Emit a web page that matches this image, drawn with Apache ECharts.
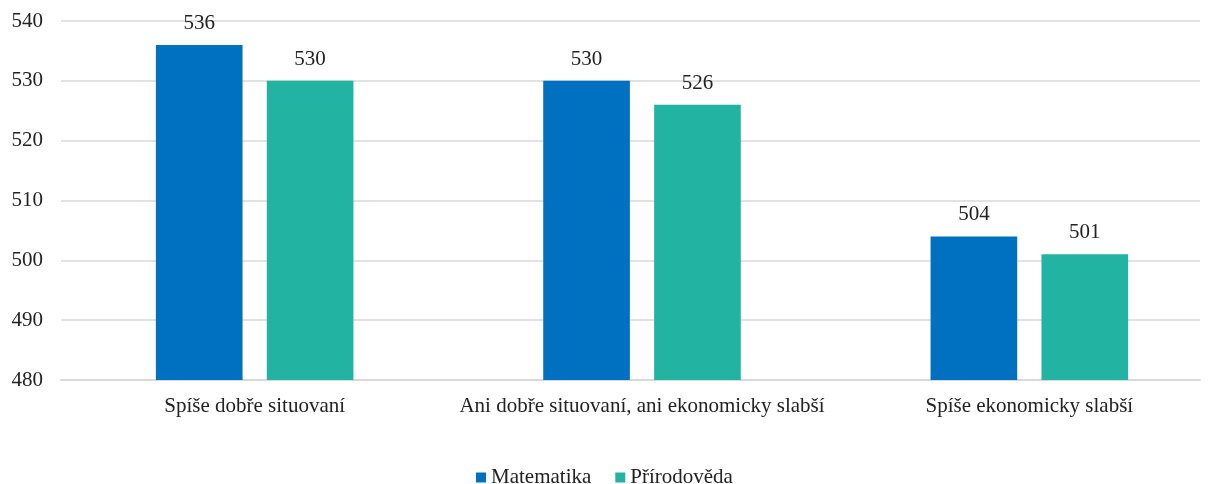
<!DOCTYPE html>
<html><head><meta charset="utf-8">
<script src="https://cdn.jsdelivr.net/npm/echarts@6/dist/echarts.min.js"></script>
<style>html,body{margin:0;padding:0;background:#fff;overflow:hidden}#c{width:1240px;height:484px}</style>
</head><body><div id="c"></div>
<script>
const categories = ["Spíše dobře situovaní", "Ani dobře situovaní, ani ekonomicky slabší", "Spíše ekonomicky slabší"];
const seriesNames = ["Matematika", "Přírodověda"];
const matematika = [536, 530, 504];
const prirodoveda = [530, 526, 501];
const yTicks = { min: 480, max: 540, interval: 10 };
const colors = ["#0070C0", "#22B3A2"];
const font = "'Liberation Serif', 'Times New Roman', serif";
const fs = 21;
const chart = echarts.init(document.getElementById('c'));
const lbl = { show: true, position: 'top', distance: 11, fontFamily: font, fontSize: fs, color: '#222' };
chart.setOption({
  animation: false,
  textStyle: { fontFamily: font },
  grid: [
    { left: 61, right: 40, top: 21, bottom: 104 },
    { left: 61, width: 1162, top: 21, bottom: 104 }
  ],
  legend: {
    left: 471, top: 462, itemWidth: 10, itemHeight: 10, itemGap: 24, icon: 'rect',
    textStyle: { fontFamily: font, fontSize: fs, color: '#222' },
    data: seriesNames
  },
  xAxis: [
    { type: 'category', gridIndex: 0, data: categories, show: true,
      axisLine: { lineStyle: { color: '#d9d9d9', width: 2 } },
      axisTick: { show: false }, axisLabel: { show: false } },
    { type: 'category', gridIndex: 1, data: categories,
      axisLine: { show: false }, axisTick: { show: false },
      axisLabel: { fontFamily: font, fontSize: fs, color: '#222', margin: 16, interval: 0 } }
  ],
  yAxis: [
    { type: 'value', gridIndex: 0, min: yTicks.min, max: yTicks.max, interval: yTicks.interval,
      axisLine: { show: false }, axisTick: { show: false },
      splitLine: { lineStyle: { color: '#d9d9d9', width: 1.5 } },
      axisLabel: { fontFamily: font, fontSize: fs, color: '#222', margin: 18 } },
    { type: 'value', gridIndex: 1, min: yTicks.min, max: yTicks.max, interval: yTicks.interval, show: false,
      splitLine: { show: false } }
  ],
  series: [
    { name: seriesNames[0], type: 'bar', xAxisIndex: 1, yAxisIndex: 1, data: matematika,
      itemStyle: { color: colors[0] }, barGap: '28%', barCategoryGap: '49%', label: lbl },
    { name: seriesNames[1], type: 'bar', xAxisIndex: 1, yAxisIndex: 1, data: prirodoveda,
      itemStyle: { color: colors[1] }, barGap: '28%', barCategoryGap: '49%', label: lbl }
  ]
});
</script></body></html>
